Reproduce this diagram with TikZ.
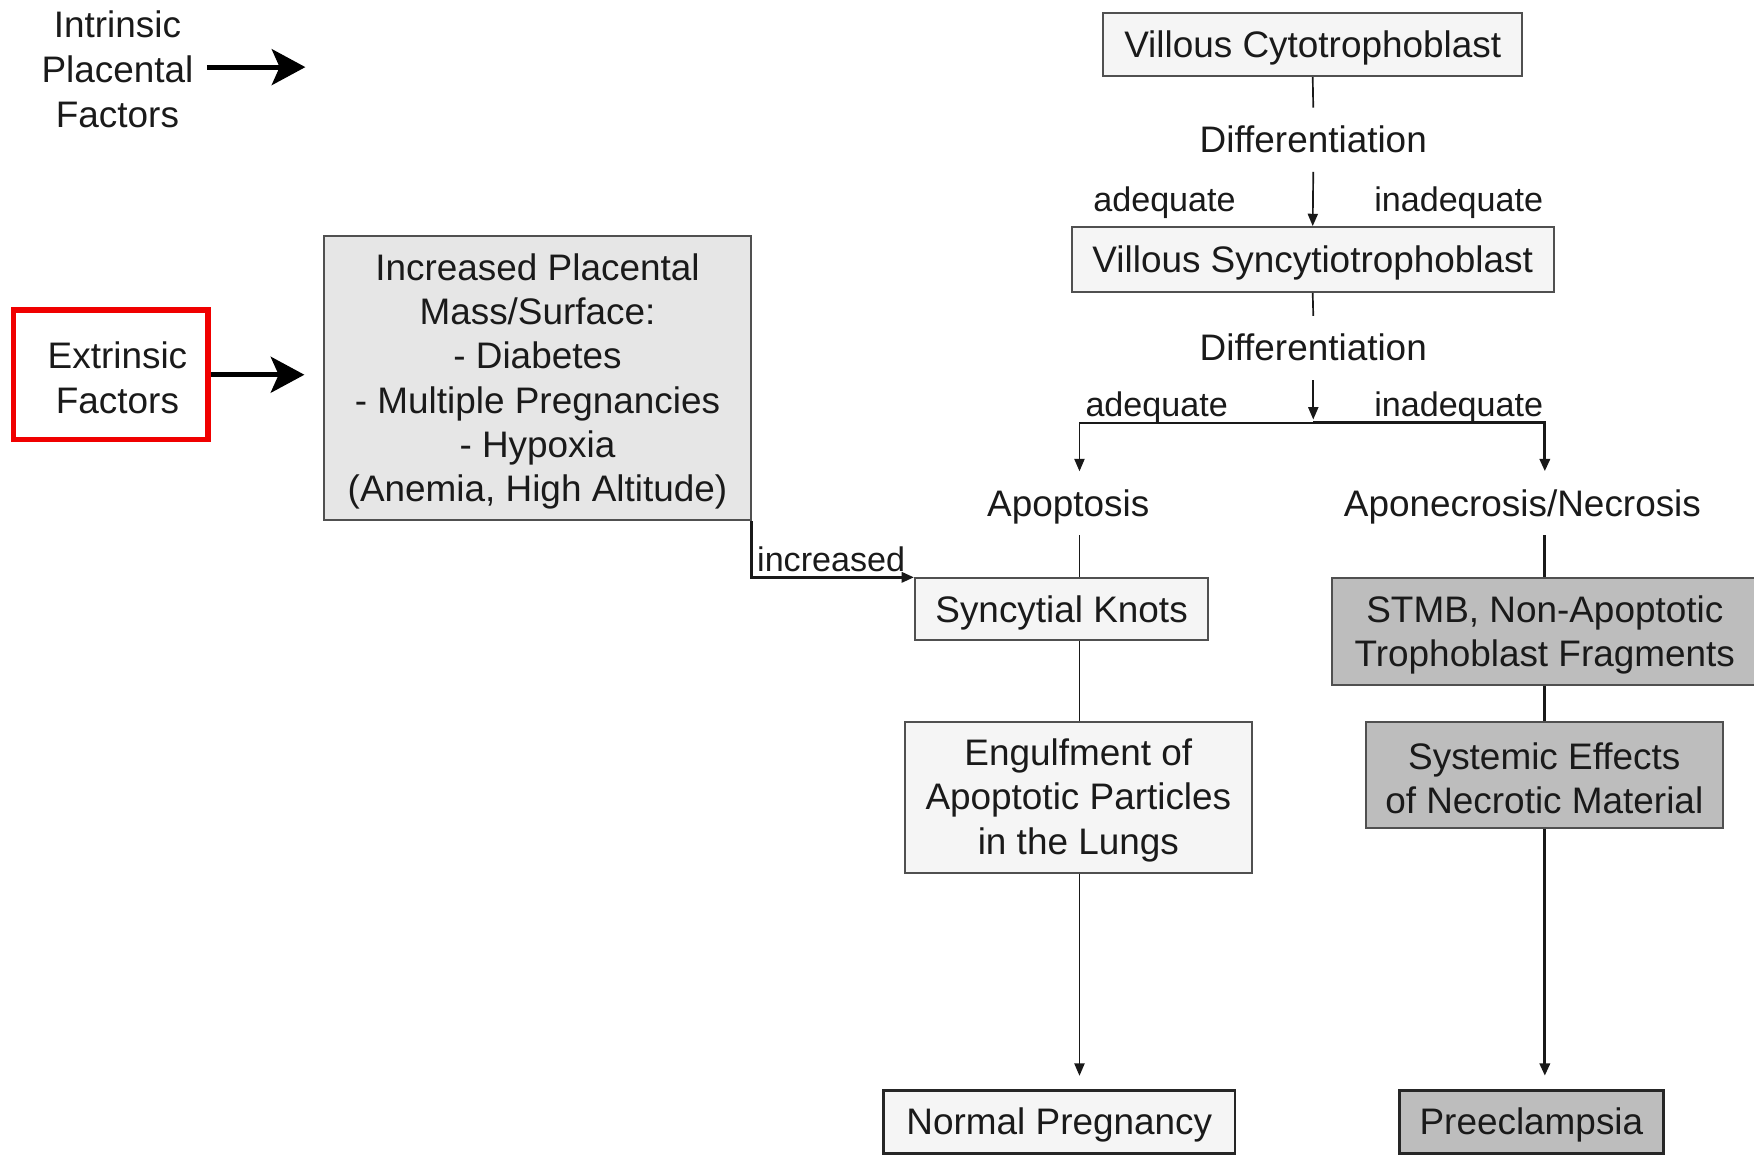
\documentclass[tikz,border=0pt]{standalone}
\usepackage{fontspec}
\setmainfont{Liberation Sans}
\usetikzlibrary{arrows.meta}
\definecolor{txt}{HTML}{1A1A1A}
\definecolor{bord}{HTML}{505050}
\definecolor{lightbox}{HTML}{F5F5F5}
\definecolor{midbox}{HTML}{E6E6E6}
\definecolor{darkbox}{HTML}{BDBDBD}
\definecolor{redbox}{HTML}{F00000}
\newcommand\topstrutA{\rule{0pt}{30pt}}
\tikzset{
  base/.style={font=\fontsize{33}{39.5}\selectfont, text=txt, align=center},
  lbl/.style={base, inner sep=10pt, text height=30pt, text depth=7pt},
  small/.style={font=\fontsize{30.5}{36}\selectfont, text=txt, inner sep=2pt},
  box/.style={base, draw=bord, line width=1.8pt, fill=lightbox, inner sep=0pt},
  graybox/.style={box, fill=midbox},
  darkgraybox/.style={box, fill=darkbox},
  endbox/.style={line width=2.6pt, draw=black!85},
  thin/.style={draw=black!90, line width=1.5pt},
  thick/.style={draw=black!90, line width=2.6pt},
  tip/.style={-{Triangle[length=11pt,width=9pt]}},
  bigtip/.style={-{Stealth[length=30pt 0 0,width=32pt 0 0,inset=7pt 0 0]}, line width=4.5pt, draw=black}
}
\begin{document}
\begin{tikzpicture}[x=1pt,y=-1pt]
\useasboundingbox (0,0) rectangle (1568,1033);
\fill[white] (0,0) rectangle (1568,1033);

% left side
\node[base, font=\fontsize{33}{40}\selectfont, inner sep=0pt] (intr) at (105,62) {Intrinsic\\Placental\\Factors};
\coordinate (intrEnd) at (273,60);
\draw[bigtip] (185,60) -- (intrEnd);

\node[base, draw=redbox, line width=5pt, minimum width=174pt, minimum height=116pt, inner sep=0pt, font=\fontsize{33}{40}\selectfont] (ext) at (99,335) {\topstrutA\hspace*{12pt}Extrinsic\\\hspace*{12pt}Factors};

\node[graybox, minimum width=381pt, minimum height=254pt] (IP) at (480.5,338)
  {\topstrutA Increased Placental\\Mass/Surface:\\- Diabetes\\- Multiple Pregnancies\\- Hypoxia\\(Anemia, High Altitude)};

\draw[bigtip, shorten >=17pt] (ext.east) -- (ext.east -| IP.west);

% top chain
\node[box, minimum width=375pt, minimum height=56pt] (VC) at (1173.5,40) {\topstrutA Villous Cytotrophoblast};
\node[lbl] (d1) at (1174,125) {Differentiation};
\node[small] (a1) at (1041,181) {adequate};
\node[small] (i1) at (1304,181) {inadequate};
\node[box, minimum width=431pt, minimum height=58pt] (VS) at (1173.5,232) {\topstrutA Villous Syncytiotrophoblast};
\node[lbl] (d2) at (1174,311) {Differentiation};
\node[small] (a2) at (1034,364) {adequate};
\node[small] (i2) at (1304,364) {inadequate};

\draw[thin] (VC.south) -- (d1.north);
\draw[thin, tip] (d1.south) -- (VS.north);
\draw[thin] (VS.south) -- (d2.north);

\coordinate (J) at (1174,378);
\coordinate (L) at (965,378);
\coordinate (R) at (1381,378);

\node[lbl] (apop) at (955,450) {Apoptosis};
\node[lbl] (apon) at (1361,450) {Aponecrosis/Necrosis};

\draw[thin, tip, shorten >=3pt] (d2.south) -- (J);
\draw[thin, tip] (J) -- (L) -- (L |- apop.north);
\draw[thick, tip] (J) -- (R) -- (R |- apon.north);

% left column
\node[box, minimum width=262pt, minimum height=55pt] (SK) at (949,544.5) {\topstrutA Syncytial Knots};
\node[box, minimum width=310pt, minimum height=135pt] (EN) at (964,712.5) {\topstrutA Engulfment of\\Apoptotic Particles\\in the Lungs};
\node[box, endbox, minimum width=314pt, minimum height=56pt] (NP) at (947,1003) {\topstrutA Normal Pregnancy};

\draw[thin] (L |- apop.south) -- (L |- SK.north);
\draw[thin] (L |- SK.south) -- (L |- EN.north);
\draw[thin, tip, shorten >=12pt] (L |- EN.south) -- (L |- NP.north);

% right column
\node[darkgraybox, minimum width=380pt, minimum height=95pt] (ST) at (1381,564.5) {\topstrutA STMB, Non-Apoptotic\\Trophoblast Fragments};
\node[darkgraybox, minimum width=319pt, minimum height=95pt] (SE) at (1380.5,692.5) {\topstrutA Systemic Effects\\of Necrotic Material};
\node[darkgraybox, endbox, minimum width=236pt, minimum height=56pt] (PE) at (1369,1003) {\topstrutA Preeclampsia};

\draw[thick] (R |- apon.south) -- (R |- ST.north);
\draw[thick] (R |- ST.south) -- (R |- SE.north);
\draw[thick, tip, shorten >=12pt] (R |- SE.south) -- (R |- PE.north);

% increased
\node[small] (inc) at (743,500) {increased};
\draw[thick, tip] (IP.south east) |- (SK.north west);
\end{tikzpicture}
\end{document}
